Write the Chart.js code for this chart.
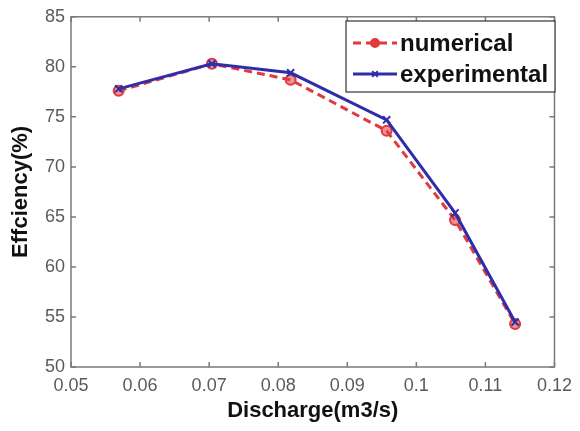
<!DOCTYPE html>
<html>
<head>
<meta charset="utf-8">
<script src="https://cdn.jsdelivr.net/npm/chart.js@4/dist/chart.umd.min.js"></script>
<style>
  html, body { margin: 0; padding: 0; background: #ffffff; }
  #wrap { width: 580px; height: 431px; }
</style>
</head>
<body>
<div id="wrap"><canvas id="c" width="580" height="431"></canvas></div>
<script>
// ---- data ----
const discharge = [0.0569, 0.0704, 0.0818, 0.0957, 0.1056, 0.1143];
const numerical = [77.6, 80.3, 78.7, 73.6, 64.7, 54.3];
const experimental = [77.8, 80.3, 79.4, 74.7, 65.4, 54.5];
const xTickValues = [0.05, 0.06, 0.07, 0.08, 0.09, 0.10, 0.11, 0.12];
const xTickLabels = ['0.05', '0.06', '0.07', '0.08', '0.09', '0.1', '0.11', '0.12'];
const yTickValues = [50, 55, 60, 65, 70, 75, 80, 85];
const yTickLabels = ['50', '55', '60', '65', '70', '75', '80', '85'];
const seriesNames = ['numerical', 'experimental'];

const RED = '#e0393e';
const BLUE = '#2e2eaa';
const FONT = "'Liberation Sans', Arial, sans-serif";

const framePlugin = {
  id: 'frame',
  afterDraw(chart) {
    const ctx = chart.ctx;
    const a = chart.chartArea;
    const xs = chart.scales.x, ys = chart.scales.y;
    ctx.save();
    ctx.strokeStyle = '#7a7a7a';
    ctx.lineWidth = 1.5;
    ctx.strokeRect(a.left, a.top, a.right - a.left, a.bottom - a.top);
    const L = 5;
    ctx.beginPath();
    xTickValues.forEach(v => {
      const px = xs.getPixelForValue(v);
      ctx.moveTo(px, a.bottom); ctx.lineTo(px, a.bottom - L);
      ctx.moveTo(px, a.top); ctx.lineTo(px, a.top + L);
    });
    yTickValues.forEach(v => {
      const py = ys.getPixelForValue(v);
      ctx.moveTo(a.left, py); ctx.lineTo(a.left + L, py);
      ctx.moveTo(a.right, py); ctx.lineTo(a.right - L, py);
    });
    ctx.stroke();

    // legend box
    const bx = 346, by = 21, bw = 209, bh = 71;
    ctx.fillStyle = '#ffffff';
    ctx.fillRect(bx, by, bw, bh);
    ctx.strokeStyle = '#333333';
    ctx.lineWidth = 1.2;
    ctx.strokeRect(bx, by, bw, bh);
    const rows = [by + 22, by + 53];
    chart.data.datasets.forEach((ds, i) => {
      const y = rows[i];
      ctx.save();
      ctx.strokeStyle = ds.borderColor;
      ctx.lineWidth = ds.borderWidth;
      ctx.setLineDash(ds.borderDash || []);
      ctx.beginPath();
      ctx.moveTo(bx + 7, y); ctx.lineTo(bx + 51, y);
      ctx.stroke();
      ctx.restore();
      ctx.save();
      ctx.strokeStyle = ds.pointBorderColor;
      ctx.fillStyle = ds.legendPointFill;
      ctx.lineWidth = ds.pointBorderWidth;
      Chart.helpers.drawPoint(ctx, {
        pointStyle: ds.pointStyle, radius: 4, borderWidth: ds.pointBorderWidth
      }, bx + 29, y);
      ctx.restore();
      ctx.fillStyle = '#111111';
      ctx.font = 'bold 24px ' + FONT;
      ctx.textBaseline = 'middle';
      ctx.textAlign = 'left';
      ctx.fillText(seriesNames[i], bx + 54, y + 1);
    });
    ctx.restore();
  }
};

new Chart(document.getElementById('c'), {
  type: 'line',
  data: {
    datasets: [
      {
        label: seriesNames[0],
        data: discharge.map((x, i) => ({ x: x, y: numerical[i] })),
        borderColor: RED,
        backgroundColor: 'rgba(224,57,62,0.55)',
        borderWidth: 3,
        borderDash: [8, 5],
        pointStyle: 'circle',
        pointRadius: 5,
        pointBorderWidth: 2,
        pointBorderColor: RED,
        pointBackgroundColor: 'rgba(224,57,62,0.55)',
        legendPointFill: RED,
        tension: 0,
        order: 1
      },
      {
        label: seriesNames[1],
        data: discharge.map((x, i) => ({ x: x, y: experimental[i] })),
        borderColor: BLUE,
        backgroundColor: BLUE,
        borderWidth: 3,
        pointStyle: 'crossRot',
        pointRadius: 5,
        pointBorderWidth: 2,
        pointBorderColor: BLUE,
        legendPointFill: BLUE,
        tension: 0,
        order: 0
      }
    ]
  },
  options: {
    responsive: false,
    devicePixelRatio: 1,
    animation: false,
    layout: { padding: { top: 10, right: 23, left: 0, bottom: 0 } },
    plugins: { legend: { display: false }, tooltip: { enabled: false } },
    scales: {
      x: {
        type: 'linear',
        min: 0.05, max: 0.12,
        afterFit(s) { s.height = 64; },
        afterBuildTicks(s) { s.ticks = xTickValues.map(v => ({ value: v })); },
        grid: { display: false, drawTicks: false },
        border: { display: false },
        ticks: {
          padding: 8,
          color: '#5a5a5a',
          font: { family: FONT, size: 18 },
          maxRotation: 0,
          autoSkip: false,
          callback: (v, i) => xTickLabels[i]
        },
        title: {
          display: true,
          text: 'Discharge(m3/s)',
          color: '#111111',
          font: { family: FONT, size: 22, weight: 'bold' },
          padding: { top: 0, bottom: 7 }
        }
      },
      y: {
        type: 'linear',
        min: 50, max: 85,
        afterFit(s) { s.width = 71; },
        afterBuildTicks(s) { s.ticks = yTickValues.map(v => ({ value: v })); },
        grid: { display: false, drawTicks: false },
        border: { display: false },
        ticks: {
          padding: 6,
          color: '#5a5a5a',
          font: { family: FONT, size: 18 },
          autoSkip: false,
          callback: (v, i) => yTickLabels[i]
        },
        title: {
          display: true,
          text: 'Effciency(%)',
          color: '#111111',
          font: { family: FONT, size: 22, weight: 'bold' },
          padding: { top: 8, bottom: 0 }
        }
      }
    }
  },
  plugins: [framePlugin]
});
</script>
</body>
</html>
